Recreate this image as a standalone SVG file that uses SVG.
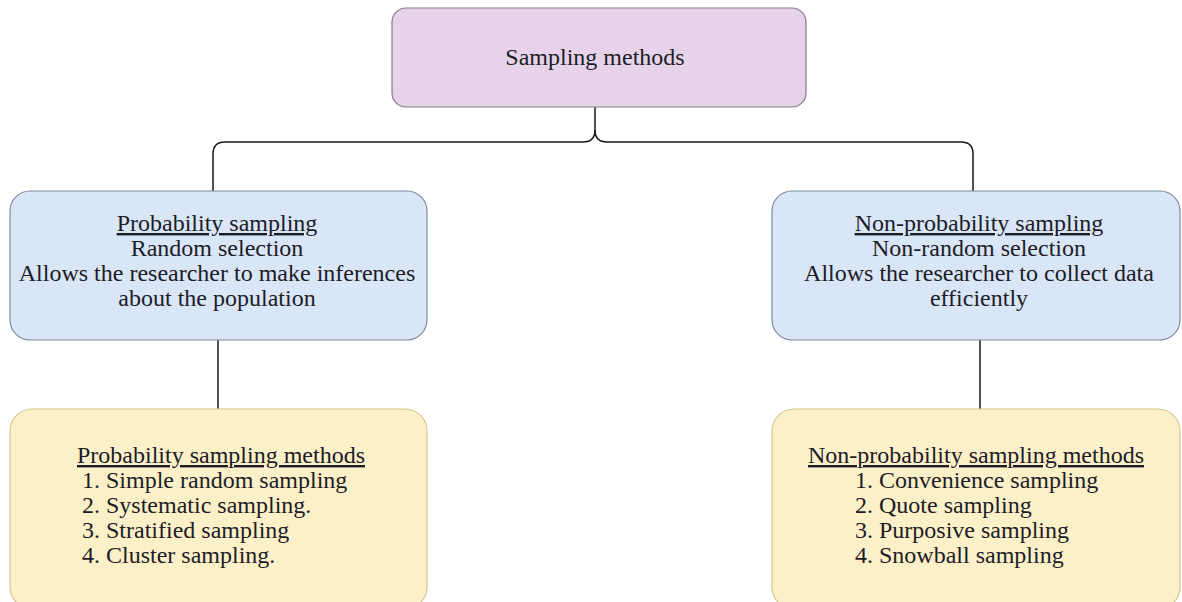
<svg xmlns="http://www.w3.org/2000/svg" width="1182" height="602" viewBox="0 0 1182 602">
<style>
text,tspan{font-family:"Liberation Serif","Times New Roman",serif;fill:#1c1c26;font-size:24px;}
.c{text-anchor:middle;}
.u{text-decoration:underline;}
.top{fill:#e6d3e9;stroke:#857a88;stroke-width:1.2;}
.blue{fill:#d8e6f7;stroke:#7f8a99;stroke-width:1.2;}
.yel{fill:#fcf0c9;stroke:#d4c590;stroke-width:1.2;}
.conn{fill:none;stroke:#1a1a1a;stroke-width:1.5;}
</style>
<rect width="1182" height="602" fill="#ffffff"/>
<g id="connectors">
<path class="conn" d="M595,107 V130 Q595,142 583,142 H225 Q213,142 213,154 V191"/>
<path class="conn" d="M595,130 Q595,142 607,142 H961 Q973,142 973,154 V191"/>
<path class="conn" d="M218,340 V410"/>
<path class="conn" d="M980,340 V410"/>
</g>
<g id="sampling-methods">
<rect class="top" x="392" y="8" width="414" height="99" rx="14"/>
<text class="c" x="595" y="65">Sampling methods</text>
</g>
<g id="probability-sampling">
<rect class="blue" x="10" y="191" width="417" height="149" rx="20"/>
<text class="c"><tspan class="u c" x="217" y="231">Probability sampling</tspan><tspan class="c" x="217" y="256">Random selection</tspan><tspan class="c" x="217" y="281">Allows the researcher to make inferences</tspan><tspan class="c" x="217" y="306">about the population</tspan></text>
</g>
<g id="non-probability-sampling">
<rect class="blue" x="772" y="191" width="408" height="149" rx="20"/>
<text class="c"><tspan class="u c" x="979" y="231">Non-probability sampling</tspan><tspan class="c" x="979" y="256">Non-random selection</tspan><tspan class="c" x="979" y="281">Allows the researcher to collect data</tspan><tspan class="c" x="979" y="306">efficiently</tspan></text>
</g>
<g id="probability-methods">
<rect class="yel" x="10" y="409" width="417" height="200" rx="22"/>
<text><tspan class="u" x="77" y="463">Probability sampling methods</tspan><tspan x="82" y="488">1. Simple random sampling</tspan><tspan x="82" y="513">2. Systematic sampling.</tspan><tspan x="82" y="538">3. Stratified sampling</tspan><tspan x="82" y="563">4. Cluster sampling.</tspan></text>
</g>
<g id="non-probability-methods">
<rect class="yel" x="772" y="409" width="408" height="200" rx="22"/>
<text><tspan class="u" x="808" y="463">Non-probability sampling methods</tspan><tspan x="855" y="488">1. Convenience sampling</tspan><tspan x="855" y="513">2. Quote sampling</tspan><tspan x="855" y="538">3. Purposive sampling</tspan><tspan x="855" y="563">4. Snowball sampling</tspan></text>
</g>
</svg>
